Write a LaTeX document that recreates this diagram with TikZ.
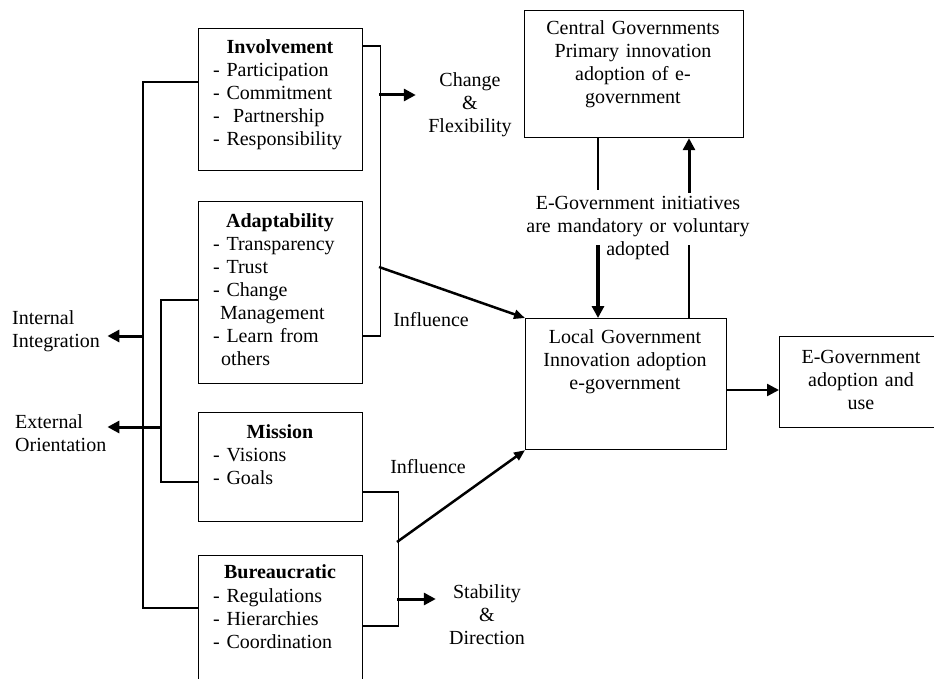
\documentclass[tikz,border=0pt]{standalone}
\usepackage{fontspec}
\setmainfont{Liberation Serif}
\usetikzlibrary{arrows.meta}
\tikzset{
	box/.style={draw,line width=1.2pt,anchor=north west,inner sep=0pt},
	boxtitle/.style={anchor=base,inner sep=0pt,font=\bfseries},
	items/.style={anchor=base west,align=left,inner sep=0pt,text width=150pt},
	txt/.style={anchor=base,align=center,inner sep=0pt},
	link/.style={line width=1.2pt},
	push/.style={line width=3pt,-{Triangle[length=12pt,width=12pt]}},
	flow/.style={line width=2.5pt,-{Triangle[length=11pt,width=9pt]}}
}
\begin{document}
\fontsize{20}{23}\selectfont
\begin{tikzpicture}[x=1pt,y=-1pt]
		\useasboundingbox (0,0) rectangle (934,679);
		\clip (0,0) rectangle (934,679);
		% the four culture boxes on the left
		\node [box,minimum width=164pt,minimum height=142pt] (involve) at (198,28) {};
		\node [boxtitle] (involvet) at (280,54) {Involvement};
		\node [items] (involvei) at (213,77) {- Participation\\- Commitment\\-\ \ Partnership\\- Responsibility};
		\node [box,minimum width=164pt,minimum height=182pt] (adapt) at (198,201) {};
		\node [boxtitle] (adaptt) at (280,228) {Adaptability};
		\node [items] (adapti) at (213,251) {- Transparency\\- Trust\\- Change\\\hspace*{7pt}Management\\- Learn from\\\hspace*{8pt}others};
		\node [box,minimum width=164pt,minimum height=109pt] (mission) at (198,412) {};
		\node [boxtitle] (missiont) at (280,438) {Mission};
		\node [items] (missioni) at (213,461) {- Visions\\- Goals};
		\node [box,minimum width=164pt,minimum height=140pt] (bureau) at (198,555) {};
		\node [boxtitle] (bureaut) at (280,578) {Bureaucratic};
		\node [items] (bureaui) at (213,602) {- Regulations\\- Hierarchies\\- Coordination};
		% government boxes
		\node [box,minimum width=219pt,minimum height=127pt] (central) at (524,10) {};
		\node [txt,text width=210pt] (centralt) at (633,35) {Central Governments\\Primary innovation\\adoption of e-\\government};
		\node [box,minimum width=201pt,minimum height=131pt] (local) at (525,318) {};
		\node [txt,text width=190pt] (localt) at (625,343) {Local Government\\Innovation adoption\\e-government};
		\node [box,minimum width=170pt,minimum height=91pt] (egov) at (779,336) {};
		\node [txt,text width=150pt] (egovt) at (861,363) {E-Government\\adoption and\\use};
		% free labels
		\node [txt,text width=100pt] (change) at (470,87) {Change\\\&\\Flexibility};
		\node [txt,text width=100pt] (stability) at (487,598) {Stability\\\&\\Direction};
		\node [items,text width=95pt] (internal) at (12,324) {Internal\\Integration};
		\node [items,text width=92pt] (external) at (15,428) {External\\Orientation};
		\node [txt,text width=240pt] (initiatives) at (638,210) {E-Government initiatives\\are mandatory or voluntary\\adopted};
		\node [txt] (infup) at (431,326) {Influence};
		\node [txt] (inflow) at (428,473) {Influence};
		% junctions on the brackets
		\coordinate (flexjoin) at (379,95);
		\coordinate (upjoin) at (379,267);
		\coordinate (intjoin) at (143,336);
		\coordinate (extjoin) at (161,427);
		\coordinate (lowjoin) at (397,542);
		\coordinate (stabjoin) at (397,599);
		\coordinate (downtop) at (598,190);
		\coordinate (downstart) at (598,245);
		\coordinate (upstart) at (689,245);
		\coordinate (uptop) at (689,193);
		% brackets
		\draw [link] ([yshift=-18pt]involve.north east) -- ++(17,0) |- ([yshift=-135pt]adapt.north east);
		\draw [link] ([yshift=-54pt]involve.north west) -- ++(-55,0) |- ([yshift=-53pt]bureau.north west);
		\draw [link] ([yshift=-99pt]adapt.north west) -- ++(-37,0) |- ([yshift=-70pt]mission.north west);
		\draw [link] ([yshift=-80pt]mission.north east) -- ++(35,0) |- ([yshift=-71pt]bureau.north east);
		% outcomes
		\draw [push] (flexjoin) -- ([xshift=-4pt]change.west |- flexjoin);
		\draw [push] (stabjoin) -- ([xshift=-1pt]stability.west |- stabjoin);
		\draw [push] (intjoin) -- (internal.east |- intjoin);
		\draw [push] (extjoin) -- (external.east |- extjoin);
		% influence on local government
		\draw [flow] (upjoin) -- (local.north west);
		\draw [flow] (lowjoin) -- (local.south west);
		\draw [flow,line width=2.5pt,-{Triangle[length=12pt,width=12pt]}] ([yshift=-72pt]local.north east) -- ([yshift=-54pt]egov.north west);
		% central and local government
		\draw [link] (central.south -| downtop) -- (downtop);
		\draw [push,line width=4pt] (downstart) -- (local.north -| downstart);
		\draw [link] (local.north -| upstart) -- (upstart);
		\draw [push] (uptop) -- (central.south -| uptop);
\end{tikzpicture}
\end{document}
